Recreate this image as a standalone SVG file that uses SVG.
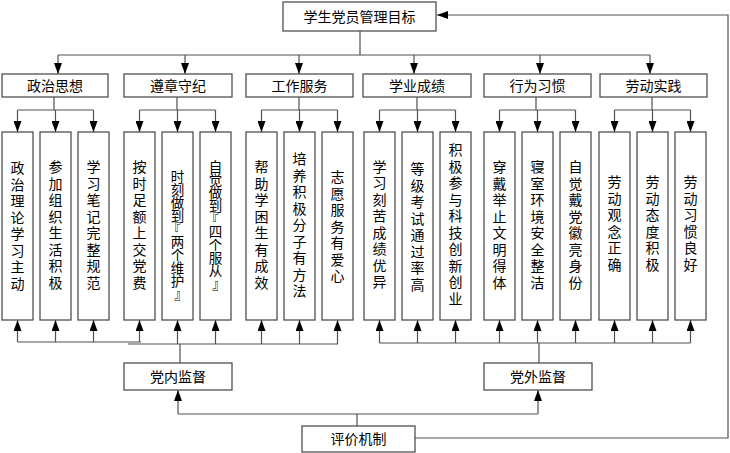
<svg xmlns="http://www.w3.org/2000/svg" width="730" height="453" viewBox="0 0 730 453">
<defs>
<marker id="ah" markerUnits="userSpaceOnUse" viewBox="0 0 11 8" refX="11" refY="4" markerWidth="11" markerHeight="8" orient="auto">
<path d="M0,0 L11,4 L0,8 z" fill="#000"/>
</marker>
<style>
.box{fill:#fff;stroke:#505050;stroke-width:1.3}
.t{font-family:"Noto Sans CJK SC","Liberation Sans",sans-serif;font-size:14px;fill:#000;text-anchor:middle}
.v{font-family:"Noto Sans CJK SC","Liberation Sans",sans-serif;font-size:14px;fill:#000;text-anchor:middle}
.vs{font-size:13.5px}
.ln{fill:none;stroke:#505050;stroke-width:1.2}
.ar{fill:none;stroke:#505050;stroke-width:1.2;marker-end:url(#ah)}
</style>
</defs>
<rect width="730" height="453" fill="#fff"/>
<g id="connectors">
<path class="ln" d="M360,31 V55 M58,55 H650"/>
<path class="ar" d="M58,55 V74"/>
<path class="ar" d="M185,55 V74"/>
<path class="ar" d="M299,55 V74"/>
<path class="ar" d="M414,55 V74"/>
<path class="ar" d="M540,55 V74"/>
<path class="ar" d="M650,55 V74"/>
<path class="ln" d="M54,97 V110 M17.5,110 H93.5 M177,97 V110 M139.5,110 H215.5 M299,97 V110 M261.5,110 H337.5 M417,97 V110 M379.5,110 H455.5 M536,97 V110 M499.5,110 H575.5 M652,97 V110 M614.5,110 H690.5"/>
<path class="ar" d="M17.5,110 V132"/>
<path class="ar" d="M55.5,110 V132"/>
<path class="ar" d="M93.5,110 V132"/>
<path class="ar" d="M139.5,110 V132"/>
<path class="ar" d="M177.5,110 V132"/>
<path class="ar" d="M215.5,110 V132"/>
<path class="ar" d="M261.5,110 V132"/>
<path class="ar" d="M299.5,110 V132"/>
<path class="ar" d="M337.5,110 V132"/>
<path class="ar" d="M379.5,110 V132"/>
<path class="ar" d="M417.5,110 V132"/>
<path class="ar" d="M455.5,110 V132"/>
<path class="ar" d="M499.5,110 V132"/>
<path class="ar" d="M537.5,110 V132"/>
<path class="ar" d="M575.5,110 V132"/>
<path class="ar" d="M614.5,110 V132"/>
<path class="ar" d="M652.5,110 V132"/>
<path class="ar" d="M690.5,110 V132"/>
<path class="ln" d="M17.5,342 H141 M128,344 H338 M180,344 V363 M379.5,343 H690.5 M539,343 V363"/>
<path class="ar" d="M17.5,342 V320"/>
<path class="ar" d="M55.5,342 V320"/>
<path class="ar" d="M93.5,342 V320"/>
<path class="ar" d="M139.5,342 V320"/>
<path class="ar" d="M177.5,344 V320"/>
<path class="ar" d="M215.5,344 V320"/>
<path class="ar" d="M261.5,344 V320"/>
<path class="ar" d="M299.5,344 V320"/>
<path class="ar" d="M337.5,344 V320"/>
<path class="ar" d="M379.5,343 V320"/>
<path class="ar" d="M417.5,343 V320"/>
<path class="ar" d="M455.5,343 V320"/>
<path class="ar" d="M499.5,343 V320"/>
<path class="ar" d="M537.5,343 V320"/>
<path class="ar" d="M575.5,343 V320"/>
<path class="ar" d="M614.5,343 V320"/>
<path class="ar" d="M652.5,343 V320"/>
<path class="ar" d="M690.5,343 V320"/>
<path class="ln" d="M178,414 H538 M357,414 V426"/>
<path class="ar" d="M178,414 V390"/>
<path class="ar" d="M538,414 V390"/>
<path class="ar" d="M415,438 H728 V15 H437"/>
</g>
<g id="goal"><rect class="box" x="283" y="2" width="153" height="29"/><text class="t" x="359.5" y="22">学生党员管理目标</text></g>
<g id="cat1"><rect class="box" x="2" y="74" width="106" height="23"/><text class="t" x="55" y="90.5">政治思想</text></g>
<g id="cat2"><rect class="box" x="124" y="74" width="108" height="23"/><text class="t" x="178" y="90.5">遵章守纪</text></g>
<g id="cat3"><rect class="box" x="246" y="74" width="107" height="23"/><text class="t" x="299.5" y="90.5">工作服务</text></g>
<g id="cat4"><rect class="box" x="363" y="74" width="108" height="23"/><text class="t" x="417" y="90.5">学业成绩</text></g>
<g id="cat5"><rect class="box" x="484" y="74" width="107" height="23"/><text class="t" x="537.5" y="90.5">行为习惯</text></g>
<g id="cat6"><rect class="box" x="600" y="74" width="107" height="23"/><text class="t" x="653.5" y="90.5">劳动实践</text></g>
<g id="i1"><rect class="box" x="2" y="132" width="31" height="188"/><text class="v" x="17.5 17.5 17.5 17.5 17.5 17.5 17.5 17.5" y="173 189.5 206 222.5 239 255.5 272 288.5">政治理论学习主动</text></g>
<g id="i2"><rect class="box" x="40" y="132" width="31" height="188"/><text class="v" x="55.5 55.5 55.5 55.5 55.5 55.5 55.5 55.5" y="172 188.5 205 221.5 238 254.5 271 287.5">参加组织生活积极</text></g>
<g id="i3"><rect class="box" x="78" y="132" width="31" height="188"/><text class="v" x="93.5 93.5 93.5 93.5 93.5 93.5 93.5 93.5" y="172 188.5 205 221.5 238 254.5 271 287.5">学习笔记完整规范</text></g>
<g id="i4"><rect class="box" x="124" y="132" width="31" height="188"/><text class="v" x="139.5 139.5 139.5 139.5 139.5 139.5 139.5 139.5" y="172 188.5 205 221.5 238 254.5 271 287.5">按时足额上交党费</text></g>
<g id="i5"><rect class="box" x="162" y="132" width="31" height="188"/><text class="v vs" x="177.5 177.5 177.5 177.5 174 177.5 177.5 177.5 177.5 181" y="181.5 194.6 207.7 220.8 233.9 247 260.1 273.2 286.3 299.4">时刻做到『两个维护』</text></g>
<g id="i6"><rect class="box" x="200" y="132" width="31" height="188"/><text class="v vs" x="215.5 215.5 215.5 215.5 212 215.5 215.5 215.5 215.5 219" y="171.5 184.6 197.7 210.8 223.9 237 250.1 263.2 276.3 289.4">自觉做到『四个服从』</text></g>
<g id="i7"><rect class="box" x="246" y="132" width="31" height="188"/><text class="v" x="261.5 261.5 261.5 261.5 261.5 261.5 261.5 261.5" y="172 188.5 205 221.5 238 254.5 271 287.5">帮助学困生有成效</text></g>
<g id="i8"><rect class="box" x="284" y="132" width="31" height="188"/><text class="v" x="299.5 299.5 299.5 299.5 299.5 299.5 299.5 299.5 299.5" y="164 180.5 197 213.5 230 246.5 263 279.5 296">培养积极分子有方法</text></g>
<g id="i9"><rect class="box" x="322" y="132" width="31" height="188"/><text class="v" x="337.5 337.5 337.5 337.5 337.5 337.5 337.5" y="182 198.5 215 231.5 248 264.5 281">志愿服务有爱心</text></g>
<g id="i10"><rect class="box" x="364" y="132" width="31" height="188"/><text class="v" x="379.5 379.5 379.5 379.5 379.5 379.5 379.5 379.5" y="171.5 188 204.5 221 237.5 254 270.5 287">学习刻苦成绩优异</text></g>
<g id="i11"><rect class="box" x="402" y="132" width="31" height="188"/><text class="v" x="417.5 417.5 417.5 417.5 417.5 417.5 417.5 417.5" y="174 190.5 207 223.5 240 256.5 273 289.5">等级考试通过率高</text></g>
<g id="i12"><rect class="box" x="440" y="132" width="31" height="188"/><text class="v" x="455.5 455.5 455.5 455.5 455.5 455.5 455.5 455.5 455.5 455.5" y="155 171.5 188 204.5 221 237.5 254 270.5 287 303.5">积极参与科技创新创业</text></g>
<g id="i13"><rect class="box" x="484" y="132" width="31" height="188"/><text class="v" x="499.5 499.5 499.5 499.5 499.5 499.5 499.5 499.5" y="172 188.5 205 221.5 238 254.5 271 287.5">穿戴举止文明得体</text></g>
<g id="i14"><rect class="box" x="522" y="132" width="31" height="188"/><text class="v" x="537.5 537.5 537.5 537.5 537.5 537.5 537.5 537.5" y="172 188.5 205 221.5 238 254.5 271 287.5">寝室环境安全整洁</text></g>
<g id="i15"><rect class="box" x="560" y="132" width="31" height="188"/><text class="v" x="575.5 575.5 575.5 575.5 575.5 575.5 575.5 575.5" y="172 188.5 205 221.5 238 254.5 271 287.5">自觉戴党徽亮身份</text></g>
<g id="i16"><rect class="box" x="599" y="132" width="31" height="188"/><text class="v" x="614.5 614.5 614.5 614.5 614.5 614.5" y="187 203.5 220 236.5 253 269.5">劳动观念正确</text></g>
<g id="i17"><rect class="box" x="637" y="132" width="31" height="188"/><text class="v" x="652.5 652.5 652.5 652.5 652.5 652.5" y="187 203.5 220 236.5 253 269.5">劳动态度积极</text></g>
<g id="i18"><rect class="box" x="675" y="132" width="31" height="188"/><text class="v" x="690.5 690.5 690.5 690.5 690.5 690.5" y="187 203.5 220 236.5 253 269.5">劳动习惯良好</text></g>
<g id="inner"><rect class="box" x="124" y="363" width="108" height="27"/><text class="t" x="178" y="381.5">党内监督</text></g>
<g id="outer"><rect class="box" x="484" y="363" width="108" height="27"/><text class="t" x="538" y="381.5">党外监督</text></g>
<g id="eval"><rect class="box" x="302" y="426" width="113" height="26"/><text class="t" x="358.5" y="444">评价机制</text></g>
</svg>
